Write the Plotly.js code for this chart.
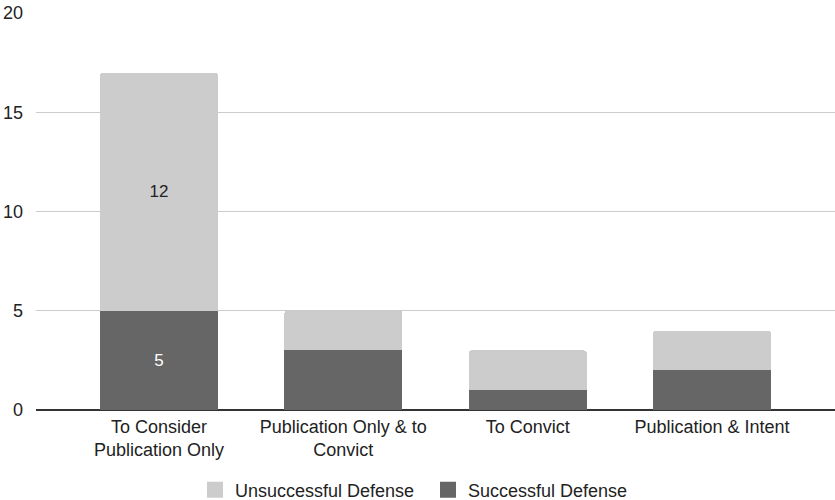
<!DOCTYPE html>
<html>
<head>
<meta charset="utf-8">
<script src="https://cdn.plot.ly/plotly-3.0.1.min.js"></script>
<style>html,body{margin:0;padding:0;background:#fff;}#chart{width:835px;height:500px;}</style>
</head>
<body>
<div id="chart"></div>
<script>
const categories = ["To Consider<br>Publication Only", "Publication Only & to<br>Convict", "To Convict", "Publication & Intent"];
const successful = [5, 3, 1, 2];
const unsuccessful = [12, 2, 2, 2];
const successfulLabels = ["5", "", "", ""];
const unsuccessfulLabels = ["12", "", "", ""];
const yTicks = [0, 5, 10, 15, 20];
const seriesNames = ["Unsuccessful Defense", "Successful Defense"];
const seriesColors = ["#cccccc", "#666666"];

const fam = "Liberation Sans, Arial, sans-serif";
const font = {family: fam, size: 18, color: "#222"};

const traces = [
  {
    type: "bar", name: seriesNames[1], x: categories, y: successful, showlegend: false,
    marker: {color: seriesColors[1]}, width: 0.64,
    text: successfulLabels, textposition: "inside", insidetextanchor: "middle",
    textfont: {family: fam, size: 17, color: "#ffffff"},
    hoverinfo: "skip"
  },
  {
    type: "bar", name: seriesNames[0], x: categories, y: unsuccessful, showlegend: false,
    marker: {color: seriesColors[0]}, width: 0.64,
    text: unsuccessfulLabels, textposition: "inside", insidetextanchor: "middle",
    textfont: {family: fam, size: 17, color: "#222222"},
    hoverinfo: "skip"
  },
  {
    type: "scatter", mode: "markers", name: seriesNames[0], x: [categories[0]], y: [null],
    marker: {symbol: "square", size: 16, color: seriesColors[0]}, hoverinfo: "skip"
  },
  {
    type: "scatter", mode: "markers", name: seriesNames[1], x: [categories[0]], y: [null],
    marker: {symbol: "square", size: 16, color: seriesColors[1]}, hoverinfo: "skip"
  }
];

const layout = {
  width: 835, height: 500,
  margin: {l: 36, r: 0, t: 13, b: 90},
  paper_bgcolor: "#fff", plot_bgcolor: "#fff",
  font: font,
  barmode: "stack",
  barcornerradius: 3,
  showlegend: true,
  legend: {orientation: "h", x: 0.199, xanchor: "left", yref: "container", y: 0.02, yanchor: "middle",
           traceorder: "normal", font: {family: fam, size: 18, color: "#222"},
           itemwidth: 30, entrywidth: 188, entrywidthmode: "pixels"},
  xaxis: {range: [-0.667, 3.667], showgrid: false, zeroline: false, showline: false,
          ticks: "", ticklabelstandoff: 4, tickfont: {family: fam, size: 18, color: "#222"}, fixedrange: true},
  yaxis: {range: [0, 20], tickvals: yTicks, showgrid: true, gridcolor: "#cccccc", gridwidth: 1,
          zeroline: true, zerolinecolor: "#333333", zerolinewidth: 1.5, showline: false,
          ticks: "", ticklabelstandoff: 12, tickfont: {family: fam, size: 18, color: "#222"}, fixedrange: true}
};

Plotly.newPlot("chart", traces, layout, {displayModeBar: false, staticPlot: true});
</script>
</body>
</html>
